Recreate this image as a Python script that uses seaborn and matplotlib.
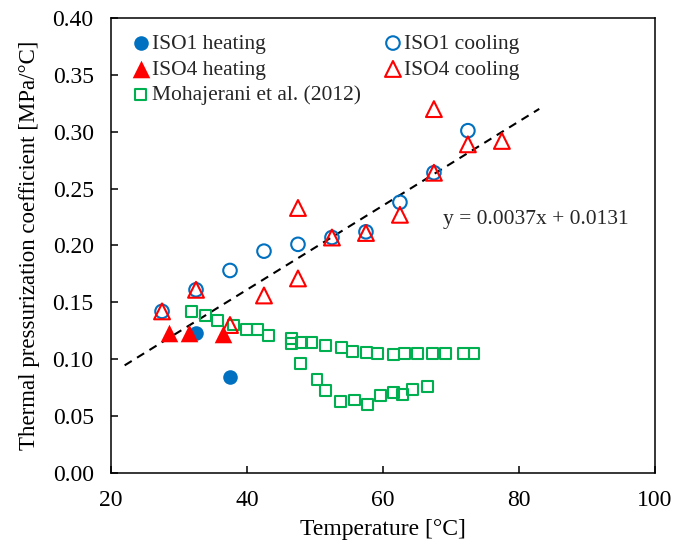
import numpy as np
import matplotlib
matplotlib.use('Agg')
import matplotlib.pyplot as plt
import seaborn as sns

# values
iso1_heat_t = [32.5, 37.5]
iso1_heat_c = [0.123, 0.084]
iso1_cool_t = [27.5, 32.5, 37.5, 42.5, 47.5, 52.5, 57.5, 62.5, 67.5, 72.5]
iso1_cool_c = [0.142, 0.161, 0.178, 0.195, 0.201, 0.207, 0.212, 0.238, 0.264, 0.301]
iso4_heat_t = [28.5, 31.5, 36.5]
iso4_heat_c = [0.123, 0.123, 0.122]
iso4_cool_t = [27.5, 32.5, 37.5, 42.5, 47.5, 47.5, 52.5, 57.5, 62.5, 67.5, 67.5, 72.5, 77.5]
iso4_cool_c = [0.142, 0.161, 0.130, 0.156, 0.233, 0.171, 0.207, 0.211, 0.227, 0.264, 0.320, 0.289, 0.292]
moh_t = [31.9, 33.9, 35.7, 38.0, 39.9, 41.6, 43.1, 46.5, 46.6, 48.0, 49.5, 51.6, 53.9, 55.5,
         57.6, 59.2, 61.5, 63.2, 65.1, 67.3, 69.2, 71.9, 73.4,
         47.9, 50.3, 51.6, 53.7, 55.8, 57.7, 59.6, 61.6, 62.9, 64.4, 66.6]
moh_c = [0.142, 0.138, 0.134, 0.130, 0.126, 0.126, 0.121, 0.118, 0.114, 0.115, 0.115, 0.112, 0.110, 0.107,
         0.106, 0.105, 0.104, 0.105, 0.105, 0.105, 0.105, 0.105, 0.105,
         0.096, 0.082, 0.072, 0.0625, 0.064, 0.060, 0.068, 0.071, 0.069, 0.073, 0.076]

# linear trend shown on the chart
slope, intercept = 0.0037, 0.0131
fit_t = np.array([22.0, 83.0])

blue = '#0070C0'
red = '#FF0000'
green = '#00B050'

sns.set_theme(style='white')
plt.rcParams['font.family'] = ['Liberation Serif', 'DejaVu Serif']
fs = 15.5
fs_ax = 17

fig = plt.figure(figsize=(6.73, 5.51), dpi=100)
ax = fig.add_axes([0.165, 0.142, 0.808, 0.825])

sns.lineplot(x=fit_t, y=slope * fit_t + intercept, ax=ax, color='black',
             linewidth=1.5, linestyle=(0, (4, 3)), zorder=1)

sns.scatterplot(x=moh_t, y=moh_c, ax=ax, marker='s', s=62, facecolor='none',
                edgecolor=green, linewidth=1.5, label='Mohajerani et al. (2012)', zorder=2)
sns.scatterplot(x=iso1_cool_t, y=iso1_cool_c, ax=ax, marker='o', s=95, facecolor='none',
                edgecolor=blue, linewidth=1.5, label='ISO1 cooling', zorder=3)
sns.scatterplot(x=iso4_cool_t, y=iso4_cool_c, ax=ax, marker='^', s=130, facecolor='none',
                edgecolor=red, linewidth=1.5, label='ISO4 cooling', zorder=4)
sns.scatterplot(x=iso1_heat_t, y=iso1_heat_c, ax=ax, marker='o', s=110, color=blue,
                edgecolor=blue, linewidth=0, label='ISO1 heating', zorder=5)
sns.scatterplot(x=iso4_heat_t, y=iso4_heat_c, ax=ax, marker='^', s=160, color=red,
                edgecolor=red, linewidth=0, label='ISO4 heating', zorder=6)

ax.text(68.8, 0.2225, 'y = 0.0037x + 0.0131', fontsize=fs, va='center', ha='left')

ax.set_xlim(20, 100)
ax.set_ylim(0, 0.40)
ax.set_xticks([20, 40, 60, 80, 100])
ax.set_yticks(np.arange(0, 0.401, 0.05))
ax.set_yticklabels([f'{v:.2f}' for v in np.arange(0, 0.401, 0.05)])
ax.tick_params(axis='both', direction='in', length=5, width=1.1, labelsize=fs_ax,
               colors='black', left=True, bottom=True, pad=12.5)
for sp in ax.spines.values():
    sp.set_color('black')
    sp.set_linewidth(1.1)

ax.set_xlabel('Temperature [°C]', fontsize=fs_ax, color='black', labelpad=6)
ax.set_ylabel('Thermal pressurization coefficient [MPa/°C]', fontsize=16.5, color='black', labelpad=9)

h, l = ax.get_legend_handles_labels()
order = ['ISO1 heating', 'ISO4 heating', 'Mohajerani et al. (2012)', 'ISO1 cooling', 'ISO4 cooling']
hd = dict(zip(l, h))
ax.legend([hd[k] for k in order], order, ncol=2, loc='upper left',
          bbox_to_anchor=(0.045, 0.966), frameon=False, fontsize=fs,
          handlelength=0.5, handletextpad=0.25, columnspacing=1.25,
          labelspacing=0.27, borderpad=0, borderaxespad=0)

fig.savefig('out.png', dpi=100)
